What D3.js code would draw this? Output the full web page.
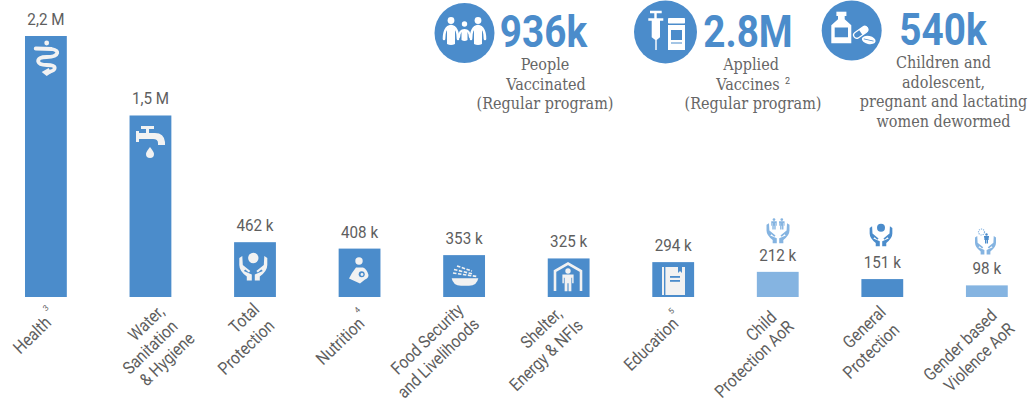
<!DOCTYPE html>
<html><head><meta charset="utf-8">
<script src="https://cdn.jsdelivr.net/npm/d3@7"></script>
<style>html,body{margin:0;padding:0;background:#fff;overflow:hidden}svg{display:block}</style>
</head><body><div id="c"></div>
<script>
const categories = ["Health","Water, Sanitation & Hygiene","Total Protection","Nutrition","Food Security and Livelihoods","Shelter, Energy & NFIs","Education","Child Protection AoR","General Protection","Gender based Violence AoR"];
const values = [2200000,1530000,462000,408000,353000,325000,294000,212000,151000,98000];
const valueLabels = ["2,2 M","1,5 M","462 k","408 k","353 k","325 k","294 k","212 k","151 k","98 k"];
const isLight = [false,false,false,false,false,false,false,true,false,true];
const labelLines = [["Health"],["Water,","Sanitation","& Hygiene"],["Total","Protection"],["Nutrition"],["Food Security","and Livelihoods"],["Shelter,","Energy & NFIs"],["Education"],["Child","Protection AoR"],["General","Protection"],["Gender based","Violence AoR"]];
const footnotes = ["3","","","4","","","5","","",""];
const kpiValues = ["936k","2.8M","540k"];
const kpiLines = [["People","Vaccinated","(Regular program)"],["Applied","Vaccines","(Regular program)"],["Children and","adolescent,","pregnant and lactating","women dewormed"]];

// layout only
const W=1029,H=401,DARK="#4b8ccb",LIGHT="#85b4e1",TXT="#5e5e5e";
const labelCenters=[[[32,335]],[[146,323],[150,347],[167,359]],[[244,318],[246,347]],[[340,341]],[[427,339],[438,358]],[[541,328],[546,355]],[[651,344]],[[761,326],[754,359]],[[864,327],[871,351]],[[960,345],[979,357]]];
const noteAt=[[47.5,310],null,null,[359,312],null,null,[673,313],null,null,null];
const kpiCircle=[[464.5,33,30],[665.5,32,31.5],[851.7,30.5,30]];
const kpiNum=[[543.5,47],[748,47],[943,45]];
const kpiText=[[[545,546,545],[70,90,109]],[[751,748,753],[70,90,109]],[[943.5,943.5,943.5,943.5],[68,88,107,127]]];

const svg=d3.select("#c").append("svg").attr("width",W).attr("height",H).attr("font-family","Roboto");
const x=d3.scaleBand().domain(categories).range([-6.37,1039.13]).paddingInner(.6).paddingOuter(.3);
const y=d3.scaleLinear().domain([0,2200000]).range([297,36]);

svg.selectAll("rect.bar").data(categories).join("rect").attr("class","bar")
 .attr("x",d=>x(d)).attr("width",x.bandwidth())
 .attr("y",(d,i)=>y(values[i])).attr("height",(d,i)=>y(0)-y(values[i]))
 .attr("fill",(d,i)=>isLight[i]?LIGHT:DARK);

svg.selectAll("text.val").data(categories).join("text").attr("class","val")
 .attr("transform",(d,i)=>`translate(${x(d)+x.bandwidth()/2},${y(values[i])-11}) scale(.95,1)`)
 .attr("text-anchor","middle").attr("font-size",16).attr("fill",TXT).text((d,i)=>valueLabels[i]);

labelLines.forEach((lines,i)=>lines.forEach((t,j)=>{
 const [cx,cy]=labelCenters[i][j];
 svg.append("text").attr("transform",`translate(${cx},${cy}) rotate(-44) scale(.87,1)`)
  .attr("text-anchor","middle").attr("dy",".35em").attr("font-size",17.5).attr("fill",TXT).text(t);
}));
footnotes.forEach((n,i)=>{ if(!n) return; const [a,b]=noteAt[i];
 svg.append("text").attr("transform",`translate(${a},${b}) rotate(-44)`).attr("text-anchor","middle").attr("font-size",8).attr("fill",TXT).text(n);});

// KPI block
kpiValues.forEach((v,i)=>{
 const [cx,cy,r]=kpiCircle[i];
 svg.append("circle").attr("cx",cx).attr("cy",cy).attr("r",r).attr("fill",DARK);
 const [nx,ny]=kpiNum[i];
 svg.append("text").attr("transform",`translate(${nx},${ny}) scale(.86,1)`).attr("text-anchor","middle")
  .attr("font-size",45).attr("font-weight",700).attr("fill",DARK).text(v);
 const [txs,ys]=kpiText[i];
 kpiLines[i].forEach((t,j)=>{
  svg.append("text").attr("transform",`translate(${txs[j]},${ys[j]})`).attr("text-anchor","middle")
   .attr("font-family","DejaVu Serif Condensed, DejaVu Serif").attr("font-size",16).attr("fill","#666").text(t);
 });
});
svg.append("text").attr("x",785).attr("y",84).attr("font-size",9).attr("fill",TXT).text("2");

// icons
const WH="#f2f2f2";
function icon(cx,cy,col){return svg.append("g").attr("transform",`translate(${cx},${cy})`).attr("fill",col).attr("stroke","none");}
function hands(g,s,dy){const h=g.append("g").attr("transform",`translate(0,${dy}) scale(${s})`);
 [1,-1].forEach(m=>h.append("path").attr("transform",`scale(${m},1)`)
  .attr("d","M-14,-10 L-11,-12 L-10.5,-3 L-3,3 L-4.5,4.5 L-8,1.5 L-9.5,3 L-1.5,6.5 L-1.5,12.5 L-6.5,12.5 L-6.5,8.5 Q-14,3 -14,-3 Z"));}
function person(g,x,y,s,c){const p=g.append("g").attr("transform",`translate(${x},${y}) scale(${s})`).attr("fill",c);
 p.append("circle").attr("cy",-8).attr("r",2.4);
 p.append("path").attr("d","M-5,-5 L5,-5 L5,3 L3.7,3 L3.7,-2 L3,-2 L3,10 L.5,10 L.5,3 L-.5,3 L-.5,10 L-3,10 L-3,-2 L-3.7,-2 L-3.7,3 L-5,3 Z");}

// health
(()=>{const g=icon(46.7,58,WH);
 g.append("circle").attr("cy",-15).attr("r",2.4);
 g.append("path").attr("fill","none").attr("stroke",WH).attr("stroke-width",3.8).attr("stroke-linecap","round")
  .attr("d","M-11,-9.5 L5,-9 Q11,-8 10.5,-5 Q9.5,-1 0,-1 Q-9,-1 -8.5,3.5 Q-7.5,7 0,7 Q8,7 8,10 Q8,13 1,14");
 g.append("path").attr("d","M2,10 L4.5,15 L0,18 L-5,14 Z");})();
// tap
(()=>{const g=icon(150,139,WH);
 g.append("path").attr("d","M-14,-8 L-14,3 L-11,3 L-11,0 L3,0 Q8,0 8,4 L8,6 L15,6 L15,3 Q14,-6 5,-6 L-1,-6 L-1,-10 L4,-10 L4,-13 L-9,-13 L-9,-10 L-4,-10 L-4,-6 L-11,-6 L-11,-8 Z");
 g.append("path").attr("d","M0,8 Q4,13 4,15 A4,4 0 0 1 -4,15 Q-4,13 0,8 Z");})();
// total protection
(()=>{const g=icon(253.3,268,WH);g.append("circle").attr("cy",-10).attr("r",5.2);hands(g,1,0);})();
// nutrition
(()=>{const g=icon(359,272,WH);g.append("circle").attr("cy",-11).attr("r",3.7);
 g.append("path").attr("d","M-3,-4.5 L4,-4.5 Q8,-3 9.5,3 Q9.5,6 6,7.5 L1,11.5 L-10,6.5 L-7,1 Z");
 g.append("circle").attr("cx",2.7).attr("cy",2.3).attr("r",3).attr("fill",DARK);
 g.append("circle").attr("cx",3).attr("cy",2.5).attr("r",1.4);})();
// food
(()=>{const g=icon(465,276,WH);
 g.append("path").attr("d","M-13.3,2.3 L13.3,2.3 Q12,9.7 4,9.7 L-4,9.7 Q-12,9.7 -13.3,2.3 Z");
 g.append("g").attr("stroke",WH).attr("stroke-width",1.6).attr("stroke-dasharray","3.5 1.5").selectAll("line")
  .data([[-12,-3,12,0.5],[-11,-6.5,8,-2],[-8,-10,7,-5]]).join("line")
  .attr("x1",d=>d[0]).attr("y1",d=>d[1]).attr("x2",d=>d[2]).attr("y2",d=>d[3]);})();
// shelter
(()=>{const g=icon(568,278,WH);
 g.append("path").attr("fill","none").attr("stroke",WH).attr("stroke-width",2.6).attr("d","M-13,13 L-13,-7 L0,-14.5 L13,-7 L13,13");
 person(g,0,2,1.12,WH);})();
// education
(()=>{const g=icon(674,281,WH);
 g.append("rect").attr("x",-12).attr("y",-14).attr("width",23).attr("height",28);
 g.append("rect").attr("x",-10).attr("y",-14).attr("width",1.4).attr("height",28).attr("fill",DARK);
 g.append("path").attr("d","M4,-14 L8,-14 L8,-8 L6,-10 L4,-8 Z").attr("fill",DARK);
 g.append("rect").attr("x",-4).attr("y",-5).attr("width",10).attr("height",1.8).attr("fill",DARK);
 g.append("rect").attr("x",-4).attr("y",-1).attr("width",10).attr("height",1.8).attr("fill",DARK);})();
// child protection
(()=>{const g=icon(778,233,LIGHT);hands(g,.82,0);person(g,-4,-9,.55,LIGHT);person(g,3.8,-9,.55,LIGHT);})();
// general protection
(()=>{const g=icon(881,236,DARK);g.append("circle").attr("cy",-8.3).attr("r",4);hands(g,.81,0);})();
// gbv
(()=>{const g=icon(985.5,245,LIGHT);hands(g,.75,0);person(g,1,-6.5,.5,DARK);
 g.append("circle").attr("cx",-4).attr("cy",-13).attr("r",3).attr("fill","none").attr("stroke",LIGHT).attr("stroke-width",1.2).attr("stroke-dasharray","1.2 1");})();

// KPI icons
(()=>{const g=icon(464.5,33,"#fff");
 [[-13.5,1],[13.5,1]].forEach(([a,b])=>{
  const p=g.append("g").attr("transform",`translate(${a},${b})`);
  p.append("circle").attr("cy",-13.5).attr("r",3.4);
  p.append("path").attr("d","M-4,-8 L4,-8 L4,10 Q0,12 -4,10 Z");
  p.append("path").attr("fill","none").attr("stroke","#fff").attr("stroke-width",2.6).attr("stroke-linecap","round").attr("d","M-7,5 Q-7,-7 0,-8 Q7,-7 7,5");
 });
 g.append("circle").attr("cy",-9).attr("r",2.7);
 g.append("path").attr("d","M-3,-2 L3,-2 L3,7 Q0,9 -3,7 Z");
 g.append("path").attr("fill","none").attr("stroke","#fff").attr("stroke-width",2.2).attr("stroke-linecap","round").attr("d","M-5.5,4 Q-5,-3 0,-3 Q5,-3 5.5,4");})();
(()=>{const g=icon(666,32,"#fff");
 g.append("path").attr("d","M-16,-21.3 L-4.3,-21.3 L-4.3,-18.7 L-9.3,-18.7 L-9.3,-13.7 L-2.7,-13.7 L-2.7,-11.3 L-6,-11.3 L-6,5.3 L-9.3,8 L-9.3,18 L-10.7,18 L-10.7,8 L-14.3,5.3 L-14.3,-11.3 L-17.7,-11.3 L-17.7,-13.7 L-11.7,-13.7 L-11.7,-18.7 L-16,-18.7 Z");
 g.append("rect").attr("x",2).attr("y",-14).attr("width",17).attr("height",5.5).attr("rx",.8);
 g.append("path").attr("fill-rule","evenodd").attr("d","M2,-7 L19,-7 L19,18 L2,18 Z M5,-2 L5,8 L16,8 L16,-2 Z");
 g.append("rect").attr("x",5).attr("y",10.5).attr("width",11).attr("height",1).attr("fill",DARK);})();
(()=>{const g=icon(851.7,30.3,"#fff");
 g.append("rect").attr("x",-15.3).attr("y",-18.6).attr("width",10).attr("height",4.3);
 g.append("path").attr("fill-rule","evenodd").attr("d","M-13.7,-14.3 L-7,-14.3 L-7,-11 L-0.4,-5 L-0.4,13 L-20.4,13 L-20.4,-5 L-13.7,-11 Z M-17,-2.7 L-17,7 L-3.7,7 L-3.7,-2.7 Z");
 const c=g.append("g").attr("transform","translate(9,2) rotate(-35)");
 c.append("rect").attr("x",-8).attr("y",-3.2).attr("width",16).attr("height",6.4).attr("rx",3.2).attr("fill","none").attr("stroke","#fff").attr("stroke-width",1.2);
 c.append("path").attr("d","M0,-3.2 L5,-3.2 A3.2,3.2 0 0 1 5,3.2 L0,3.2 Z");
 const p=g.append("g").attr("transform","translate(17,9.7) rotate(12)");
 p.append("ellipse").attr("rx",7).attr("ry",4);
 p.append("rect").attr("x",-5).attr("y",-.4).attr("width",10).attr("height",.8).attr("fill",DARK);})();
</script></body></html>
